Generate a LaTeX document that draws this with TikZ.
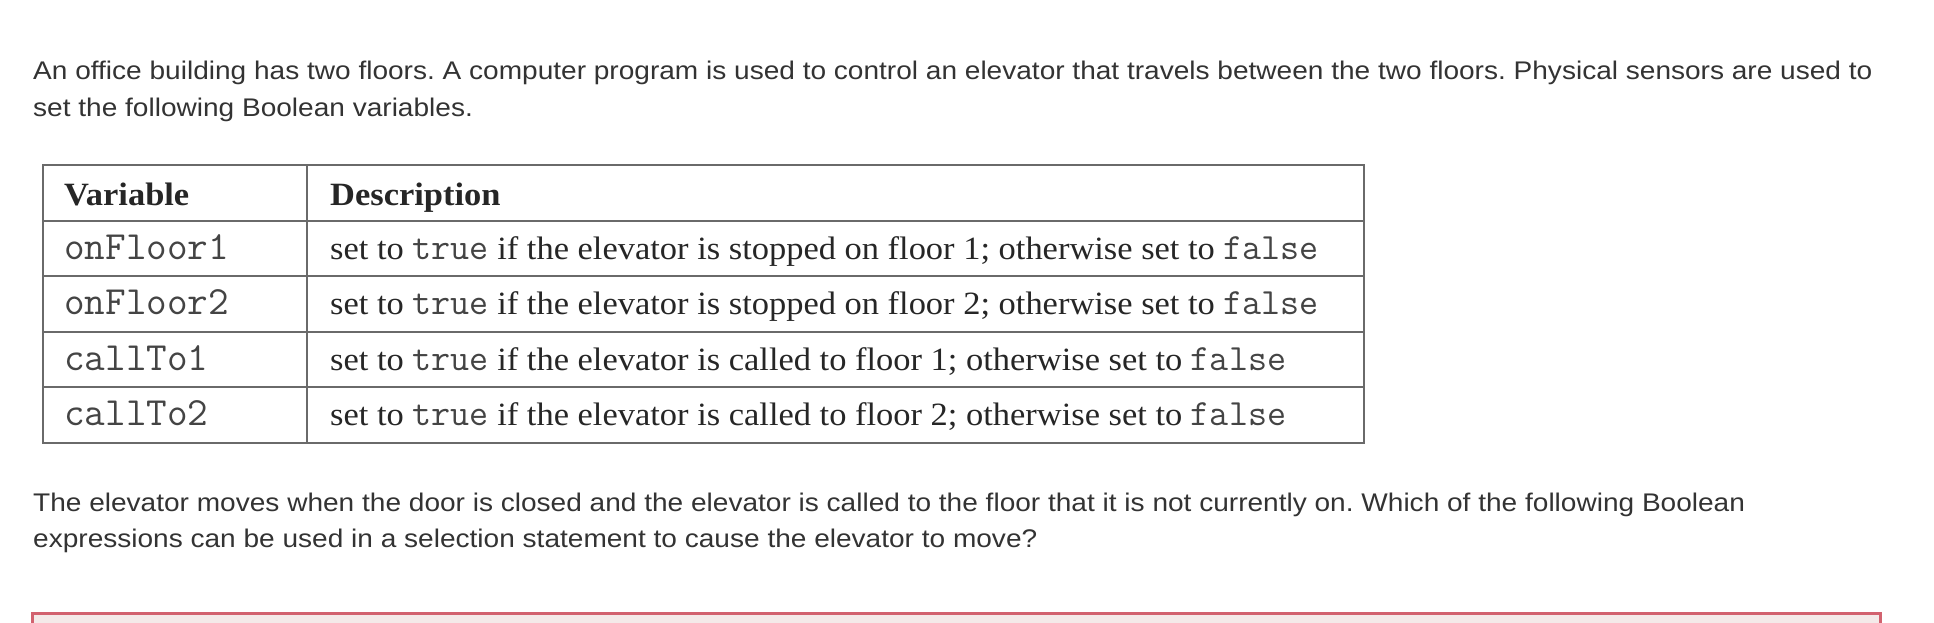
\documentclass[tikz,border=0pt]{standalone}
\usepackage{fontspec}
\setmainfont[FakeStretch=1.1]{Liberation Sans}
\newfontfamily\tabserif[FakeStretch=1.06]{Liberation Serif}
\newfontfamily\tabmono{Latin Modern Mono}
\definecolor{bodytext}{HTML}{333333}
\definecolor{tabtext}{HTML}{262626}
\definecolor{monotext}{HTML}{444444}
\definecolor{rulegray}{HTML}{6A6A6A}
\definecolor{alertline}{HTML}{D2626F}
\definecolor{alertfill}{HTML}{F4EAE9}
\newcommand\mtt[1]{{\color{monotext}\tabmono\fontsize{37}{38}\selectfont #1}}
\frenchspacing
\tikzset{
  para/.style={anchor=base west, inner sep=0pt, text=bodytext, font=\fontsize{25.5}{37}\selectfont},
  cellhead/.style={anchor=base west, inner sep=0pt, text=tabtext, font=\tabserif\bfseries\fontsize{32.5}{38}\selectfont},
  cellvar/.style={anchor=base west, inner sep=0pt, text=monotext, font=\tabmono\fontsize{40}{38}\selectfont},
  celldesc/.style={anchor=base west, inner sep=0pt, text=tabtext, font=\tabserif\fontsize{32.5}{38}\selectfont},
  tablerule/.style={draw=rulegray, line width=2pt},
  alertbox/.style={draw=alertline, fill=alertfill, line width=3pt}
}
\begin{document}
\begin{tikzpicture}[x=1pt,y=-1pt]
\useasboundingbox (0,0) rectangle (1934,622);
\fill[white] (0,0) rectangle (1934,622);
% intro paragraph
\node[para] (p1) at (33,79) {An office building has two floors. A computer program is used to control an elevator that travels between the two floors. Physical sensors are used to};
\node[para] (p2) at (33,116) {set the following Boolean variables.};
% table
\draw[tablerule] (43,164.5) rectangle (1364,442.5);
\foreach \yy in {220.5,276,331.5,387} \draw[tablerule] (43,\yy) -- (1364,\yy);
\draw[tablerule] (307,164.5) -- (307,442.5);
\node[cellhead] (h1) at (64,205) {Variable};
\node[cellhead] (h2) at (330,205) {Description};
\node[cellvar] (v1) at (64,259) {onFloor1};
\node[cellvar] (v2) at (64,314.5) {onFloor2};
\node[cellvar] (v3) at (64,370) {callTo1};
\node[cellvar] (v4) at (64,425.5) {callTo2};
\node[celldesc] (d1) at (330,259) {set to \mtt{true} if the elevator is stopped on floor 1; otherwise set to \mtt{false}};
\node[celldesc] (d2) at (330,314.5) {set to \mtt{true} if the elevator is stopped on floor 2; otherwise set to \mtt{false}};
\node[celldesc] (d3) at (330,370) {set to \mtt{true} if the elevator is called to floor 1; otherwise set to \mtt{false}};
\node[celldesc] (d4) at (330,425.5) {set to \mtt{true} if the elevator is called to floor 2; otherwise set to \mtt{false}};
% question paragraph
\node[para] (q1) at (33,511) {The elevator moves when the door is closed and the elevator is called to the floor that it is not currently on. Which of the following Boolean};
\node[para] (q2) at (33,547) {expressions can be used in a selection statement to cause the elevator to move?};
% answer box (top edge only visible)
\draw[alertbox] (32,613.5) rectangle (1880,640);
\end{tikzpicture}
\end{document}
